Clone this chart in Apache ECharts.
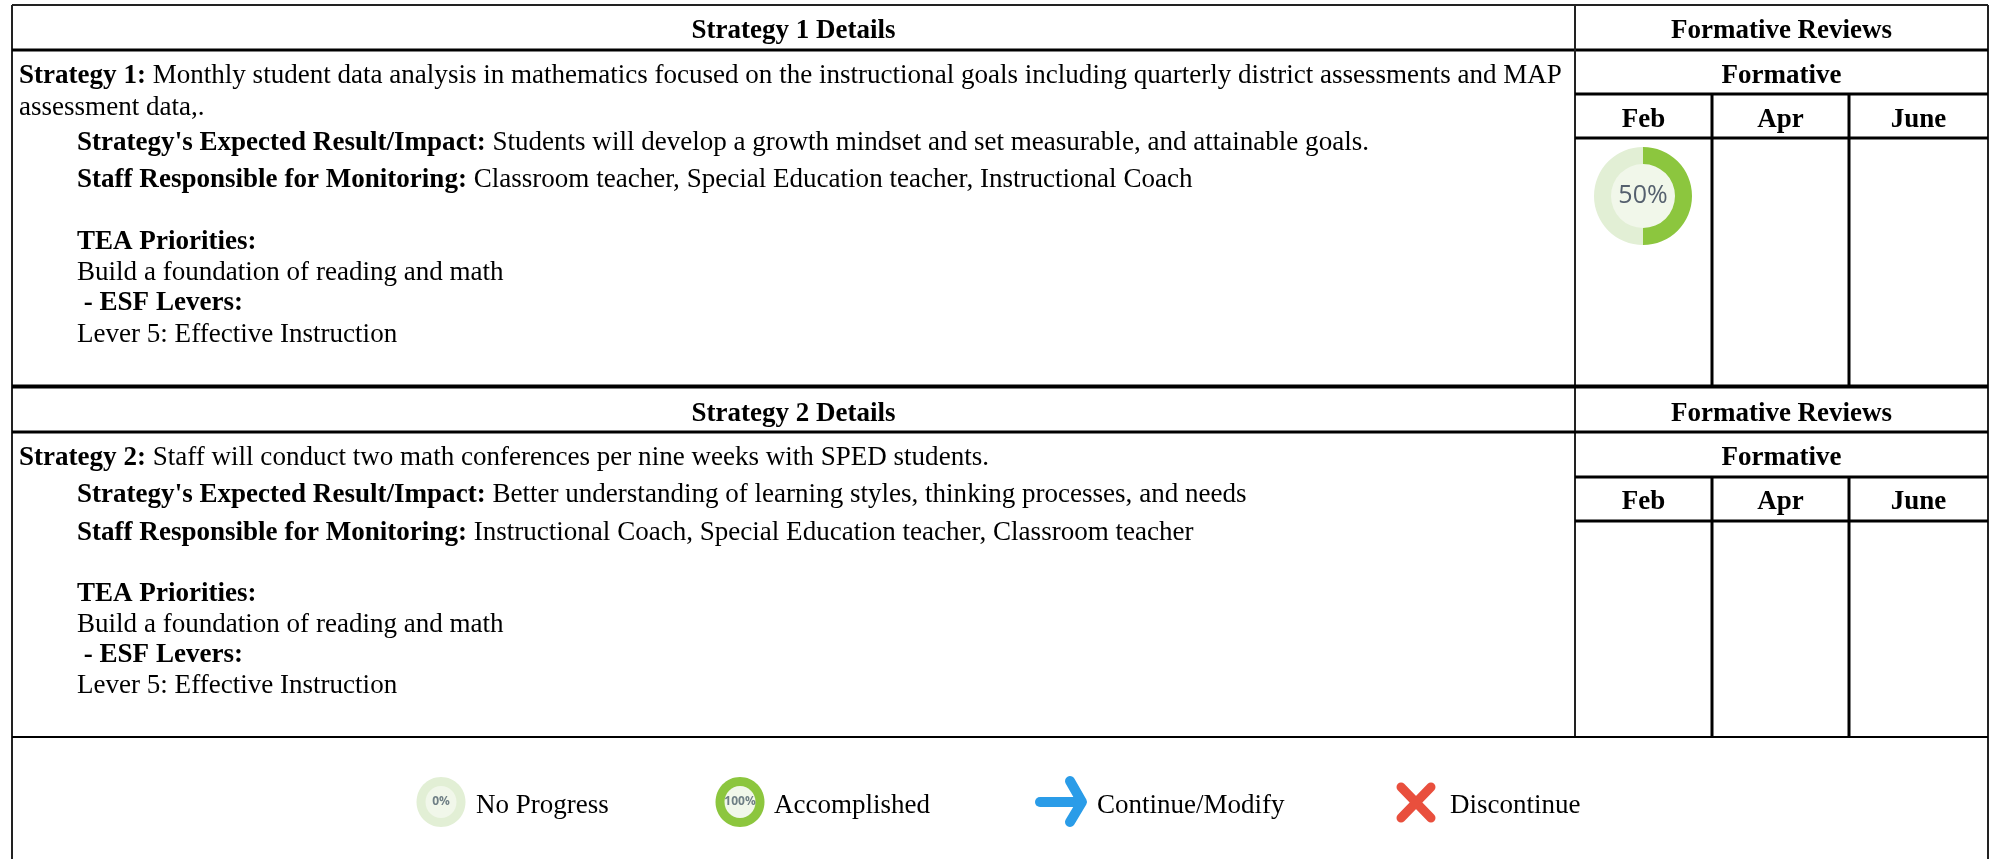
<!DOCTYPE html>
<html><head><meta charset="utf-8">
<style>html,body{margin:0;padding:0;background:#fff}#c{width:1993px;height:859px}</style>
<script src="https://cdn.jsdelivr.net/npm/echarts@6/dist/echarts.min.js"></script>
</head><body><div id="c"></div>
<script>
const months = ['Feb', 'Apr', 'June'];
const febProgress = [50, 50];
const s1Header = 'Strategy 1 Details';
const s2Header = 'Strategy 2 Details';
const reviewsHeader = 'Formative Reviews';
const formativeHeader = 'Formative';
const s1Lines = [
  ['Strategy 1:', ' Monthly student data analysis in mathematics focused on the instructional goals including quarterly district assessments and MAP'],
  ['', 'assessment data,.'],
  ["Strategy's Expected Result/Impact:", ' Students will develop a growth mindset and set measurable, and attainable goals.'],
  ['Staff Responsible for Monitoring:', ' Classroom teacher, Special Education teacher, Instructional Coach'],
  ['TEA Priorities:', ''],
  ['', 'Build a foundation of reading and math'],
  [' - ESF Levers:', ''],
  ['', 'Lever 5: Effective Instruction']
];
const s2Lines = [
  ['Strategy 2:', ' Staff will conduct two math conferences per nine weeks with SPED students.'],
  ["Strategy's Expected Result/Impact:", ' Better understanding of learning styles, thinking processes, and needs'],
  ['Staff Responsible for Monitoring:', ' Instructional Coach, Special Education teacher, Classroom teacher'],
  ['TEA Priorities:', ''],
  ['', 'Build a foundation of reading and math'],
  [' - ESF Levers:', ''],
  ['', 'Lever 5: Effective Instruction']
];
const legendLabels = ['No Progress', 'Accomplished', 'Continue/Modify', 'Discontinue'];
const legendPct = ['0%', '100%'];

const FONT = '"Liberation Serif","Times New Roman",serif';
const GREEN = '#8cc63e', PALE = '#e2efd5', INNER = '#f1f7ea', BLUE = '#2a9ce8', RED = '#e94f3d';
const els = [];
function line(x1, y1, x2, y2, w, color) {
  els.push({type: 'line', silent: true, z: 5, shape: {x1, y1, x2, y2}, style: {stroke: color || '#000', lineWidth: w || 2}});
}
function center(t, x, y) {
  els.push({type: 'text', silent: true, z: 6, x, y, style: {text: t, fill: '#000', font: 'bold 27px ' + FONT, align: 'center', verticalAlign: 'middle'}});
}
function rich(pair, x, y) {
  const parts = [];
  if (pair[0]) parts.push('{b|' + pair[0] + '}');
  if (pair[1]) parts.push('{r|' + pair[1] + '}');
  els.push({type: 'text', silent: true, z: 6, x, y, style: {
    text: parts.join(''), verticalAlign: 'middle', align: 'left',
    rich: {
      b: {font: 'bold 27.05px ' + FONT, fill: '#000'},
      r: {font: '27.05px ' + FONT, fill: '#000'}
    }}});
}
function ring(cx, cy, rx, ry, w, outer, label, fs) {
  els.push({type: 'ellipse', silent: true, z: 6, shape: {cx, cy, rx, ry}, style: {fill: outer}});
  els.push({type: 'ellipse', silent: true, z: 7, shape: {cx, cy, rx: rx - w, ry: ry - w}, style: {fill: INNER}});
  els.push({type: 'text', silent: true, z: 8, x: cx, y: cy, style: {text: label, fill: '#6f7f85', font: 'bold ' + fs + 'px "Open Sans"', align: 'center', verticalAlign: 'middle'}});
}
// outer frame + rows
const L = 12, R = 1988, V = 1575, M1 = 1712, M2 = 1849;
line(L, 5, R, 5, 2, '#222');
line(L, 5, L, 859, 2, '#222');
line(R, 5, R, 859, 2, '#222');
line(L, 50, R, 50, 3);
line(V, 5, V, 737, 2, '#222');
line(V, 94, R, 94, 3);
line(V, 138, R, 138, 3);
line(M1, 94, M1, 386, 3);
line(M2, 94, M2, 386, 3);
line(L, 386.5, R, 386.5, 4);
line(L, 432, R, 432, 3);
line(V, 477, R, 477, 3);
line(V, 521, R, 521, 3);
line(M1, 477, M1, 737, 3);
line(M2, 477, M2, 737, 3);
line(L, 737, R, 737, 2);

const midX = (L + V) / 2, revX = (V + R) / 2;
const colX = [(V + M1) / 2, (M1 + M2) / 2, (M2 + R) / 2];
[[s1Header, 31, 76, 120], [s2Header, 414, 458, 502]].forEach(r => {
  center(r[0], midX, r[1]);
  center(reviewsHeader, revX, r[1]);
  center(formativeHeader, revX, r[2]);
  months.forEach((m, i) => center(m, colX[i], r[3]));
});
const s1Y = [76, 108, 143, 180, 242, 273, 303, 335];
const s1X = [19, 19, 77, 77, 77, 77, 77, 77];
s1Lines.forEach((p, i) => rich(p, s1X[i], s1Y[i]));
const s2Y = [458, 495, 533, 594, 625, 655, 686];
const s2X = [19, 77, 77, 77, 77, 77, 77];
s2Lines.forEach((p, i) => rich(p, s2X[i], s2Y[i]));

// legend
ring(441, 802, 24.5, 25, 9, PALE, legendPct[0], 12);
ring(740, 802, 24.5, 25, 9, GREEN, legendPct[1], 12);
[[476, 0], [774, 1], [1097, 2], [1450, 3]].forEach(a => {
  els.push({type: 'text', silent: true, z: 6, x: a[0], y: 806, style: {text: legendLabels[a[1]], fill: '#000', font: '27px ' + FONT, verticalAlign: 'middle'}});
});
els.push({type: 'polyline', silent: true, z: 6, shape: {points: [[1040, 802], [1080, 802]]}, style: {stroke: BLUE, lineWidth: 10, lineCap: 'round', fill: null}});
els.push({type: 'polyline', silent: true, z: 6, shape: {points: [[1070, 781], [1082, 802], [1070, 822]]}, style: {stroke: BLUE, lineWidth: 10, lineCap: 'round', lineJoin: 'round', fill: null}});
els.push({type: 'line', silent: true, z: 6, shape: {x1: 1401, y1: 787, x2: 1431, y2: 818}, style: {stroke: RED, lineWidth: 9, lineCap: 'round'}});
els.push({type: 'line', silent: true, z: 6, shape: {x1: 1431, y1: 787, x2: 1401, y2: 818}, style: {stroke: RED, lineWidth: 9, lineCap: 'round'}});
els.push({type: 'text', silent: true, z: 8, x: 1643, y: 196, style: {text: febProgress[0] + '%', fill: '#55606e', font: '25px "Open Sans"', align: 'center', verticalAlign: 'middle'}});

const chart = echarts.init(document.getElementById('c'));
chart.setOption({
  animation: false,
  backgroundColor: '#fff',
  graphic: {elements: els},
  series: [
    {type: 'pie', silent: true, z: 3, center: [1643, 196], radius: [0, 33], startAngle: 90, label: {show: false}, labelLine: {show: false},
     data: [{value: 1, itemStyle: {color: INNER}}]},
    {type: 'pie', silent: true, z: 4, center: [1643, 196], radius: [32, 49], startAngle: 90, clockwise: true,
     label: {show: false}, labelLine: {show: false}, emphasis: {disabled: true},
     data: [{value: febProgress[0], name: 'Done', itemStyle: {color: GREEN}}, {value: febProgress[1], name: 'Left', itemStyle: {color: PALE}}]}
  ]
});
</script></body></html>
